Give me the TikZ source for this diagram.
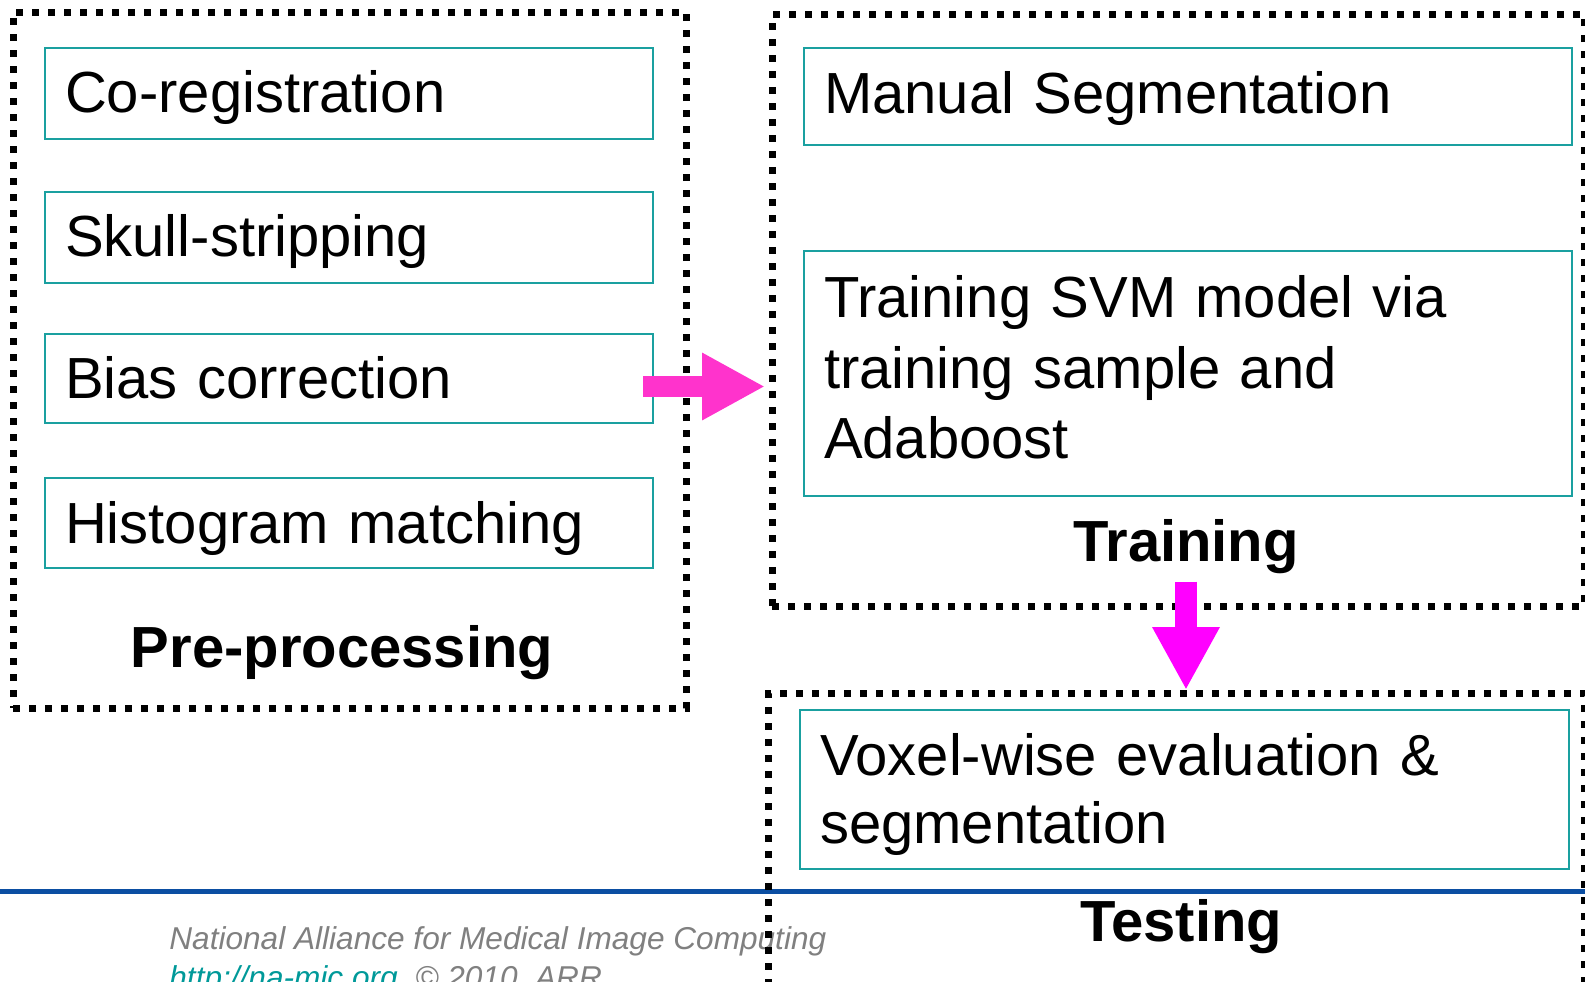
\documentclass[tikz,border=0pt]{standalone}
\usepackage{fontspec}
\setmainfont{Liberation Sans}
\usetikzlibrary{arrows.meta}

\definecolor{boxteal}{RGB}{26,160,160}
\definecolor{arrowpink}{RGB}{255,51,204}
\definecolor{arrowmag}{RGB}{255,0,255}
\definecolor{rulebl}{RGB}{11,78,162}
\definecolor{footgray}{RGB}{128,128,128}
\definecolor{linkteal}{RGB}{0,153,153}

\begin{document}
\begin{tikzpicture}[x=0.5pt,y=-0.5pt,
  stepbox/.style n args={3}{draw=boxteal,line width=1pt,outer sep=0pt,
    inner xsep=10pt,inner ysep=0pt,anchor=north west,align=left,text width=#1,
    font=\fontsize{29}{35.15}\selectfont,
    execute at begin node={\rule{0pt}{#2}},
    execute at end node={\rule[-#3]{0pt}{#3}}},
  groupbox/.style={draw,line width=3.5pt,dash pattern=on 3.5pt off 4.5pt,
    inner sep=0pt,outer sep=0pt},
  grouplbl/.style={anchor=base,font=\fontsize{29}{35}\selectfont\bfseries},
  footline/.style={anchor=base west,inner sep=0pt,text=footgray,
    font=\fontsize{15.8}{19.5}\selectfont\itshape},
  bigarrow/.style={line width=10.5pt,-{Triangle[length=31.5pt,width=31.5pt]}}]
\useasboundingbox (0,0) rectangle (1585,981);

% footer
\draw[rulebl,line width=2.5pt] (0,891.5) -- (1585,891.5);
\node[footline] (foot1) at (169,949) {National Alliance for Medical Image Computing};
\node[footline] (foot2) at (169,988) {\textcolor{linkteal}{http://na-mic.org}\ \ \textcopyright\ 2010, ARR};

% pre-processing steps
\node[stepbox={284pt}{32.2pt}{13.15pt}] (coreg) at (45,48.3) {Co-registration};
\node[stepbox={284pt}{32.25pt}{13.25pt}] (skull) at (45,192) {Skull-stripping};
\node[stepbox={284pt}{32.25pt}{12.25pt}] (bias) at (45,334) {Bias correction};
\node[stepbox={284pt}{32.5pt}{12.5pt}] (hist) at (45,478.3) {Histogram matching};

% training steps
\node[stepbox={364pt}{32.5pt}{16pt}] (manual) at (804,48) {Manual Segmentation};
\node[stepbox={364pt}{33.35pt}{18.85pt}] (svm) at (804,251) {Training SVM model via\\training sample and\\Adaboost};

% testing step
\node[stepbox={364.5pt}{32.5pt}{12.85pt},font=\fontsize{29}{34.15}\selectfont] (voxel) at (800,710) {Voxel-wise evaluation \&\\segmentation};

% groups
\node[groupbox,minimum width=336.5pt,minimum height=348pt] (prebox) at (349.5,360) {};
\node[groupbox,minimum width=406pt,minimum height=295.75pt] (trainbox) at (1178,310.25) {};
\node[groupbox,minimum width=407.75pt,minimum height=153.5pt] (testbox) at (1176.25,846.5) {};

\node[grouplbl] (prelbl) at (342,667) {Pre-processing};
\node[grouplbl] (trainlbl) at (1186,561.5) {Training};
\node[grouplbl] (testlbl) at (1181,941.5) {Testing};

% arrows
\coordinate (arrA) at ([xshift=-5pt,yshift=-4pt]bias.east);
\coordinate (arrB) at (arrA -| trainbox.west);
\draw[bigarrow,arrowpink] (arrA) -- ([xshift=-3.5pt]arrB);
\coordinate (arrC) at ([yshift=-10pt]trainlbl.base);
\coordinate (arrD) at (arrC |- testbox.north);
\draw[bigarrow,arrowmag,line width=11pt] (arrC) -- ([yshift=1.5pt]arrD);
\end{tikzpicture}
\end{document}
